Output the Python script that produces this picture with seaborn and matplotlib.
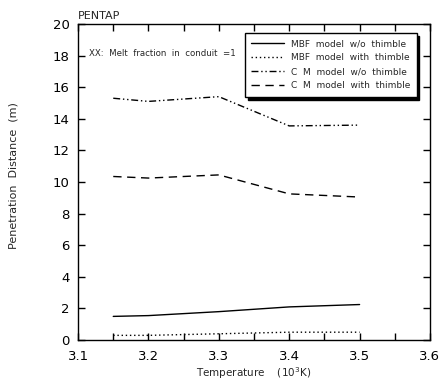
import matplotlib
matplotlib.use("Agg")
import matplotlib.pyplot as plt
import seaborn as sns
import pandas as pd
import numpy as np

temps = [3.15, 3.2, 3.3, 3.4, 3.5]
mbf_wo = [1.5, 1.55, 1.8, 2.1, 2.25]
mbf_with = [0.3, 0.3, 0.4, 0.5, 0.5]
cm_wo = [15.3, 15.1, 15.4, 13.55, 13.6]
cm_with = [10.35, 10.25, 10.45, 9.25, 9.05]
labels = ["MBF  model  w/o  thimble", "MBF  model  with  thimble",
          "C  M  model  w/o  thimble", "C  M  model  with  thimble"]
x_ticks = [3.1, 3.2, 3.3, 3.4, 3.5, 3.6]
y_ticks = [0, 2, 4, 6, 8, 10, 12, 14, 16, 18, 20]

sns.set_theme(style="white")
plt.rcParams['font.family'] = ['DejaVu Sans']

fig = plt.figure(figsize=(4.41, 3.8), dpi=100)
ax = fig.add_axes([0.177, 0.105, 0.798, 0.832])

series = [mbf_wo, mbf_with, cm_wo, cm_with]
styles = ['-', (0, (1, 2)), (0, (5, 2, 1, 2, 1, 2)), (0, (6, 4))]
for vals, lab, ls in zip(series, labels, styles):
    df = pd.DataFrame({"T": temps, "D": vals})
    sns.lineplot(data=df, x="T", y="D", ax=ax, color="black", lw=1.0,
                 linestyle=ls, label=lab)

ax.set_xlim(3.1, 3.6)
ax.set_ylim(0, 20)
ax.set_xticks(x_ticks)
ax.set_xticklabels([f"{v:.1f}" for v in x_ticks])
ax.set_xticks(np.arange(3.15, 3.6, 0.1), minor=True)
ax.set_yticks(y_ticks)
ax.set_yticklabels([str(v) for v in y_ticks])
ax.tick_params(axis='both', which='both', direction='in', length=5, width=1,
               top=True, right=True, bottom=True, left=True, colors='black',
               labelsize=9.5)
ax.tick_params(axis='x', pad=7)
ax.tick_params(axis='y', pad=6)
for s in ax.spines.values():
    s.set_color('black')
    s.set_linewidth(1.0)

ax.set_xlabel("Temperature    (10$^3$K)", fontsize=7.5)
ax.xaxis.set_label_coords(0.5, -0.08)
ax.set_ylabel("Penetration  Distance  (m)", fontsize=8)
ax.yaxis.set_label_coords(-0.17, 0.52)
ax.text(0.0, 1.01, "PENTAP", transform=ax.transAxes, fontsize=8, ha='left', va='bottom')
ax.text(3.116, 18.1, "XX:  Melt  fraction  in  conduit  =1", fontsize=6.2, ha='left', va='center')

leg = ax.legend(loc='upper right', bbox_to_anchor=(0.975, 0.985), fontsize=6.5,
                frameon=True, shadow={'color': 'black', 'alpha': 1}, fancybox=False,
                edgecolor='black', handlelength=3.6, borderpad=0.7, labelspacing=0.55)
leg.get_frame().set_linewidth(1.0)

fig.savefig("out.png", dpi=100)
